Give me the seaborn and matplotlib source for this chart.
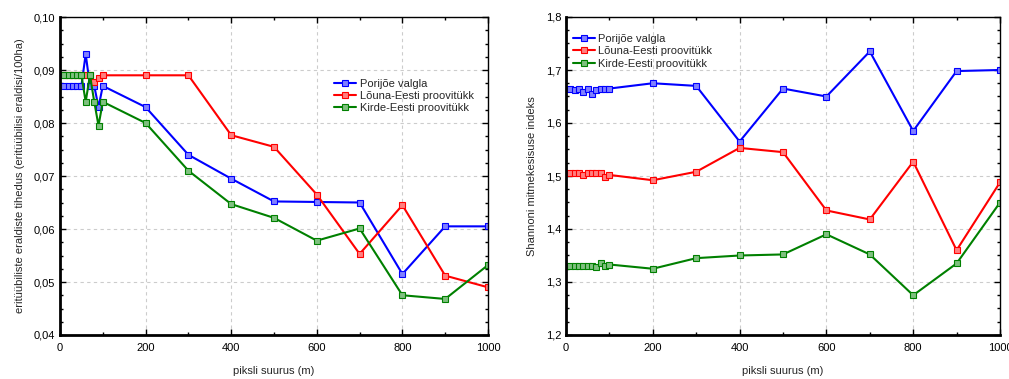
import numpy as np
import pandas as pd
import seaborn as sns
import matplotlib
matplotlib.use("Agg")
import matplotlib.pyplot as plt
from matplotlib.ticker import MultipleLocator, FuncFormatter

# ---- data ----
x_vals = [10, 20, 30, 40, 50, 60, 70, 80, 90, 100, 200, 300, 400, 500, 600, 700, 800, 900, 1000]
series_names = ["Porijõe valgla", "Lõuna-Eesti proovitükk", "Kirde-Eesti proovitükk"]

dens_porijoe = [0.087, 0.087, 0.087, 0.087, 0.087, 0.093, 0.087, 0.087, 0.083, 0.087,
                0.083, 0.074, 0.0695, 0.0652, 0.0651, 0.065, 0.0515, 0.0605, 0.0605]
dens_louna = [0.089, 0.089, 0.089, 0.089, 0.089, 0.089, 0.089, 0.0878, 0.0885, 0.089,
              0.089, 0.089, 0.0777, 0.0755, 0.0665, 0.0553, 0.0645, 0.0512, 0.049]
dens_kirde = [0.089, 0.089, 0.089, 0.089, 0.089, 0.084, 0.089, 0.084, 0.0795, 0.084,
              0.080, 0.071, 0.0647, 0.0621, 0.0578, 0.0601, 0.0475, 0.0468, 0.0532]

shan_porijoe = [1.665, 1.662, 1.665, 1.658, 1.665, 1.655, 1.662, 1.665, 1.665, 1.665,
                1.675, 1.670, 1.565, 1.665, 1.650, 1.735, 1.585, 1.698, 1.700]
shan_louna = [1.505, 1.505, 1.505, 1.502, 1.505, 1.505, 1.505, 1.505, 1.499, 1.502,
              1.492, 1.508, 1.553, 1.545, 1.435, 1.418, 1.527, 1.360, 1.488]
shan_kirde = [1.330, 1.330, 1.330, 1.330, 1.330, 1.330, 1.328, 1.335, 1.330, 1.333,
              1.325, 1.345, 1.350, 1.352, 1.390, 1.352, 1.275, 1.335, 1.450]

x_ticks = [0, 200, 400, 600, 800, 1000]
left_yticks = [0.04, 0.05, 0.06, 0.07, 0.08, 0.09, 0.10]
right_yticks = [1.2, 1.3, 1.4, 1.5, 1.6, 1.7, 1.8]

colors = ["#0000ff", "#ff0000", "#008000"]
face_colors = ["#8080ff", "#ff8080", "#80c080"]

sns.set_theme(style="white")
plt.rcParams['font.family'] = ['Liberation Sans', 'DejaVu Sans']
plt.rcParams['font.size'] = 8

fig = plt.figure(figsize=(10.09, 3.79), dpi=100)
ax1 = fig.add_axes([60/1009, 1-335/379, 428/1009, 318/379])
ax2 = fig.add_axes([566/1009, 1-335/379, 434/1009, 318/379])

def draw(ax, ys, yticks, ylabel, fmt):
    for name, y, c, fc in zip(series_names, ys, colors, face_colors):
        df = pd.DataFrame({"x": x_vals, "y": y})
        sns.lineplot(data=df, x="x", y="y", ax=ax, color=c, linewidth=1.5,
                     marker="s", markersize=4.5, markerfacecolor=fc,
                     markeredgecolor=c, markeredgewidth=0.8, label=name,
                     sort=False)
    ax.set_xlim(0, 1000)
    ax.set_ylim(yticks[0], yticks[-1])
    ax.set_xticks(x_ticks)
    ax.set_yticks(yticks)
    ax.xaxis.set_minor_locator(MultipleLocator(100))
    ax.yaxis.set_minor_locator(MultipleLocator((yticks[1]-yticks[0])/4))
    ax.yaxis.set_major_formatter(FuncFormatter(lambda v, p: fmt.format(v).replace('.', ',')))
    ax.tick_params(which='both', direction='in', top=True, right=True,
                   left=True, bottom=True, colors='black', labelsize=8)
    ax.tick_params(which='major', length=4, width=1)
    ax.tick_params(which='minor', length=2.5, width=1)
    ax.tick_params(axis='x', pad=6)
    ax.grid(True, which='major', linestyle=(0, (3, 3)), color='#cccccc', linewidth=0.8)
    for sp in ax.spines.values():
        sp.set_color('black')
        sp.set_linewidth(1)
    ax.spines['left'].set_linewidth(2)
    ax.spines['bottom'].set_linewidth(2)
    ax.set_xlabel("piksli suurus (m)", fontsize=8, labelpad=9)
    ax.set_ylabel(ylabel, fontsize=8, labelpad=6)

draw(ax1, [dens_porijoe, dens_louna, dens_kirde], left_yticks,
     "eritüübiliste eraldiste tihedus (eritüübilisi eraldisi/100ha)", "{:.2f}")
draw(ax2, [shan_porijoe, shan_louna, shan_kirde], right_yticks,
     "Shannoni mitmekesisuse indeks", "{:.1f}")

ax1.legend(loc='upper left', bbox_to_anchor=(0.63, 0.82), frameon=False,
           fontsize=8, handlelength=2, handletextpad=0.3, labelspacing=0.2,
           borderaxespad=0)
ax2.legend(loc='upper left', bbox_to_anchor=(0.005, 0.96), frameon=False,
           fontsize=8, handlelength=2, handletextpad=0.3, labelspacing=0.2,
           borderaxespad=0)

fig.savefig("out.png", dpi=100)
